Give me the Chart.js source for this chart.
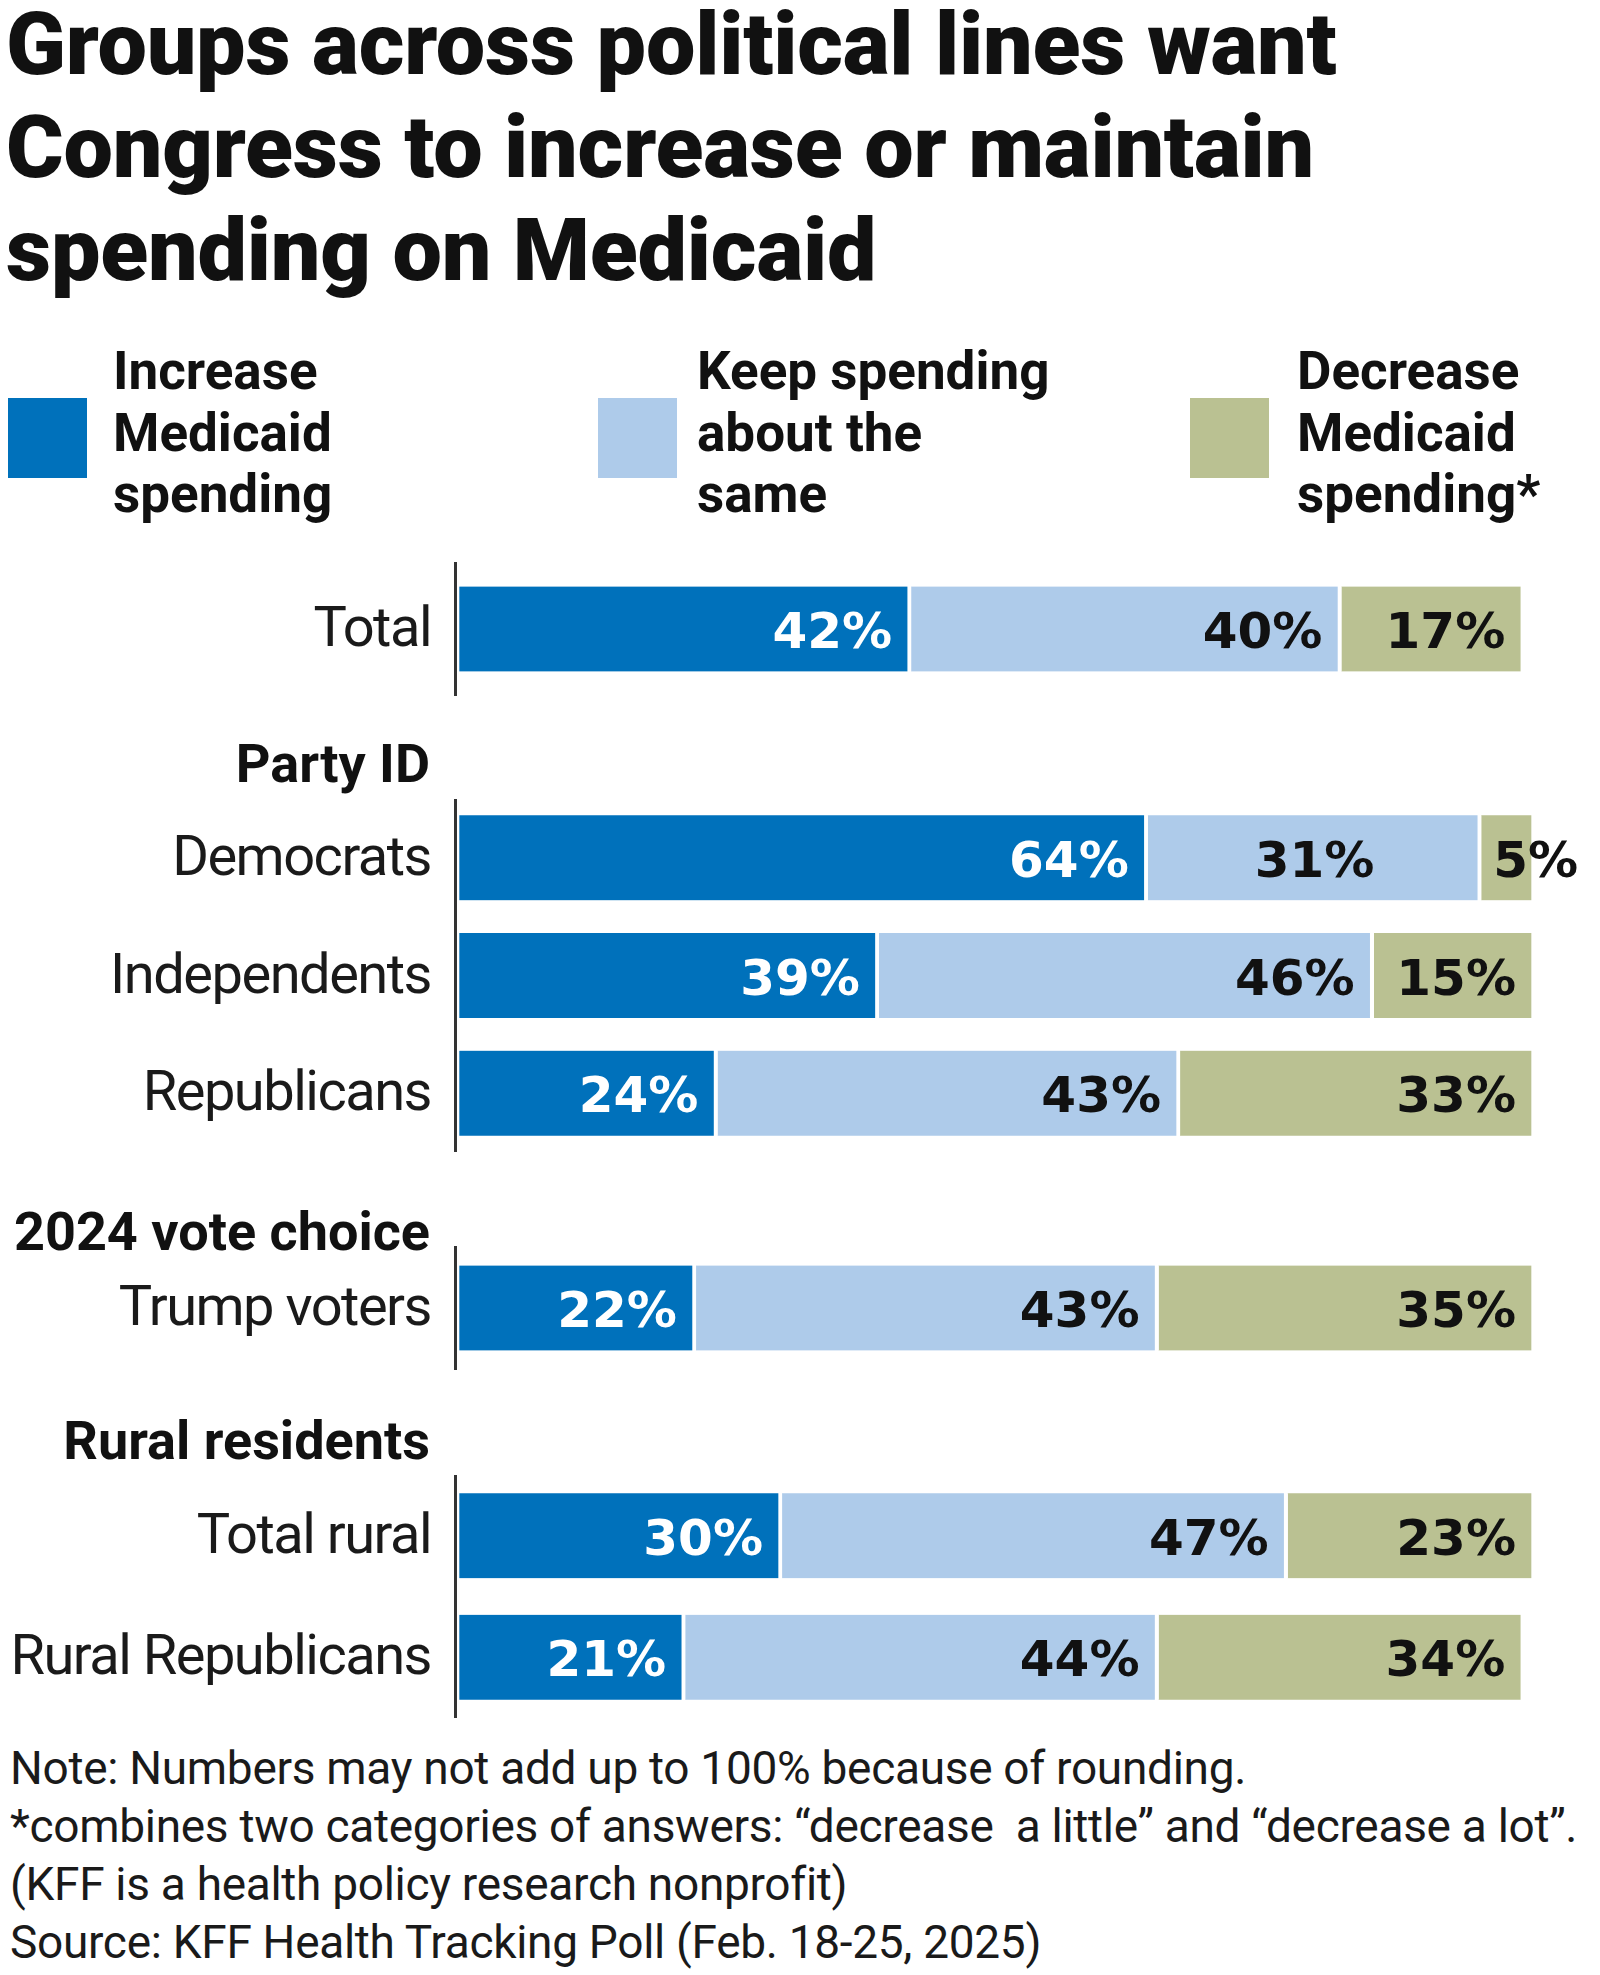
<!DOCTYPE html>
<html>
<head>
<meta charset="utf-8">
<style>
  body { margin: 0; background: #fff; font-family: Roboto, "Noto Sans", sans-serif; color: #111; }
  #page { position: relative; width: 1600px; height: 1975px; overflow: hidden; }
  h1 { position: absolute; left: 6px; top: -8px; margin: 0; font-size: 88px; line-height: 103px; font-weight: 900; letter-spacing: -0.2px; white-space: nowrap; }
  .swatch { position: absolute; top: 398px; width: 79px; height: 80px; }
  .legtext { position: absolute; top: 341px; font-size: 53px; line-height: 61.5px; font-weight: 700; white-space: nowrap; }
  .group { position: absolute; right: 1170px; font-size: 54px; line-height: 61.5px; font-weight: 700; white-space: nowrap; text-align: right; }
  .box { position: absolute; left: 0; width: 1600px; }
  #notes { position: absolute; left: 10px; top: 1739px; font-size: 46px; line-height: 58px; white-space: pre; color: #1a1a1a; letter-spacing: -0.3px; }
</style>
</head>
<body>
<div id="page">
  <h1>Groups across political lines want<br>Congress to increase or maintain<br>spending on Medicaid</h1>
  <div id="legend"></div>
  <div id="groups"></div>

  <div class="box" style="top:562px;height:134px"><canvas id="chartTotal"></canvas></div>
  <div class="box" style="top:799px;height:353px"><canvas id="chartParty"></canvas></div>
  <div class="box" style="top:1246px;height:124px"><canvas id="chartVote"></canvas></div>
  <div class="box" style="top:1475px;height:243px"><canvas id="chartRural"></canvas></div>

  <div id="notes">Note: Numbers may not add up to 100% because of rounding.
*combines two categories of answers: “decrease  a little” and “decrease a lot”.
(KFF is a health policy research nonprofit)
Source: KFF Health Tracking Poll (Feb. 18-25, 2025)</div>
</div>

<script src="https://cdn.jsdelivr.net/npm/chart.js"></script>

<script>
  // series (legend) names, split the way the legend wraps
  const seriesNames = ['Increase Medicaid spending', 'Keep spending about the same', 'Decrease Medicaid spending*'];
  const legendLines = [['Increase', 'Medicaid', 'spending'], ['Keep spending', 'about the', 'same'], ['Decrease', 'Medicaid', 'spending*']];
  const seriesColors = ['#0071bb', '#aecbea', '#bac192'];

  // group headings
  const groupNames = ['Party ID', '2024 vote choice', 'Rural residents'];

  // rows
  const totalLabels = ['Total'];
  const partyLabels = ['Democrats', 'Independents', 'Republicans'];
  const voteLabels = ['Trump voters'];
  const ruralLabels = ['Total rural', 'Rural Republicans'];

  // values (%)
  const increaseTotal = [42];
  const keepTotal = [40];
  const decreaseTotal = [17];

  const increaseParty = [64, 39, 24];
  const keepParty = [31, 46, 43];
  const decreaseParty = [5, 15, 33];

  const increaseVote = [22];
  const keepVote = [43];
  const decreaseVote = [35];

  const increaseRural = [30, 21];
  const keepRural = [47, 44];
  const decreaseRural = [23, 34];
</script>

<script>
  // legend
  const legendX = [[8, 113], [598, 697], [1190, 1297]];
  const legend = document.getElementById('legend');
  seriesNames.forEach((name, i) => {
    const sw = document.createElement('div');
    sw.className = 'swatch';
    sw.style.left = legendX[i][0] + 'px';
    sw.style.background = seriesColors[i];
    sw.title = name;
    legend.appendChild(sw);
    const t = document.createElement('div');
    t.className = 'legtext';
    t.style.left = legendX[i][1] + 'px';
    t.innerHTML = legendLines[i].join('<br>');
    legend.appendChild(t);
  });

  // group headings
  const groupTops = [733, 1201, 1410];
  const groupsDiv = document.getElementById('groups');
  groupNames.forEach((g, i) => {
    const d = document.createElement('div');
    d.className = 'group';
    d.style.top = groupTops[i] + 'px';
    d.textContent = g;
    groupsDiv.appendChild(d);
  });

  const LABEL_FONT = 'bold 50px "DejaVu Sans"';

  // value labels inside the segments
  const segmentLabels = {
    id: 'segmentLabels',
    beforeDraw(chart) {
      chart.ctx.letterSpacing = '-1.5px';
    },
    afterDatasetsDraw(chart) {
      const ctx = chart.ctx;
      ctx.save();
      ctx.letterSpacing = '0px';
      ctx.font = LABEL_FONT;
      ctx.textBaseline = 'alphabetic';
      const n = chart.data.datasets.length;
      // does the label of segment (i, j) fit inside its bar?
      const fits = (i, j) => {
        const p = chart.getDatasetMeta(i).data[j].getProps(['x', 'base'], true);
        const w = ctx.measureText(chart.data.datasets[i].data[j] + '%').width;
        return p.x - p.base >= w + 30;
      };
      chart.data.datasets.forEach((ds, i) => {
        chart.getDatasetMeta(i).data.forEach((bar, j) => {
          const p = bar.getProps(['x', 'y', 'base'], true);
          const txt = ds.data[j] + '%';
          ctx.fillStyle = i === 0 ? '#fff' : '#111';
          const y = p.y + 19;
          if (!fits(i, j)) {
            // too narrow: start just inside the segment and run past it
            ctx.textAlign = 'left';
            ctx.fillText(txt, p.base + 12, y);
          } else if (i + 1 < n && !fits(i + 1, j)) {
            // neighbour's label spills over: keep this one centred
            ctx.textAlign = 'center';
            ctx.fillText(txt, (p.x + p.base) / 2, y);
          } else {
            ctx.textAlign = 'right';
            ctx.fillText(txt, p.x - 19, y);
          }
        });
      });
      ctx.restore();
    }
  };

  function makeChart(id, labels, inc, keep, dec) {
    const values = [inc, keep, dec];
    return new Chart(document.getElementById(id), {
      type: 'bar',
      data: {
        labels: labels,
        datasets: values.map((v, i) => ({
          label: seriesNames[i],
          data: v,
          backgroundColor: seriesColors[i],
          borderColor: '#fff',
          borderWidth: { left: 0, top: 0, bottom: 0, right: 4 },
          borderSkipped: false,
          barThickness: 85
        }))
      },
      options: {
        indexAxis: 'y',
        responsive: true,
        maintainAspectRatio: false,
        animation: false,
        layout: { padding: { left: 0, right: 65, top: 0, bottom: 0 } },
        plugins: { legend: { display: false }, tooltip: { enabled: false } },
        scales: {
          x: { stacked: true, min: -0.4, max: 100, display: false },
          y: {
            stacked: true,
            grid: { display: true, drawOnChartArea: false, drawTicks: false },
            border: { display: true, color: '#333', width: 3 },
            ticks: { color: '#1a1a1a', padding: 24, labelOffset: 3, font: { family: 'Roboto', size: 56 } },
            afterFit(scale) {
              scale.width = 455;
              scale.paddingTop = 0;
              scale.paddingBottom = 0;
            }
          }
        }
      },
      plugins: [segmentLabels]
    });
  }

  makeChart('chartTotal', totalLabels, increaseTotal, keepTotal, decreaseTotal);
  makeChart('chartParty', partyLabels, increaseParty, keepParty, decreaseParty);
  makeChart('chartVote', voteLabels, increaseVote, keepVote, decreaseVote);
  makeChart('chartRural', ruralLabels, increaseRural, keepRural, decreaseRural);
</script>
</body>
</html>
